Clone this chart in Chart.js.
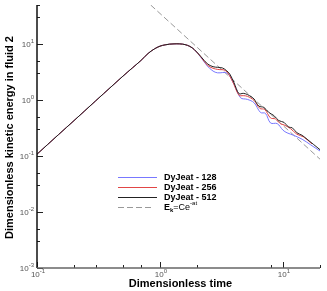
<!DOCTYPE html>
<html>
<head>
<meta charset="utf-8">
<script src="https://cdn.jsdelivr.net/npm/chart.js@4"></script>
<style>
  html, body { margin: 0; padding: 0; background: #fff; }
</style>
</head>
<body>
<canvas id="grafica" width="327" height="291"></canvas>
<script>
// common rise (all resolutions overlap up to t ~ 1.9)
const tEarly = [0.1, 0.15, 0.2, 0.3, 0.4, 0.5, 0.6, 0.7, 0.8, 0.9, 1.0, 1.1, 1.2, 1.3, 1.45, 1.6, 1.75, 1.9];
const eEarly = [0.108, 0.243, 0.43, 0.97, 1.72, 2.68, 3.8, 5.1, 6.8, 8.2, 9.2, 9.7, 10.0, 10.1, 10.1, 9.8, 9.1, 8.0];

// decay part, per resolution
const t128 = [2.15, 2.43, 2.7, 2.93, 3.53, 4.0, 4.52, 5.13, 5.81, 6.57, 7.2, 7.92, 8.98, 10.0, 10.8, 12.2, 14.3, 16.7, 20];
const e128 = [5.8, 4.05, 3.3, 3.07, 3.02, 1.91, 1.10, 1.03, 0.9, 0.6, 0.58, 0.39, 0.38, 0.29, 0.26, 0.235, 0.20, 0.16, 0.123];

const t256 = [2.15, 2.43, 2.7, 2.95, 3.42, 3.88, 4.39, 4.75, 5.13, 5.81, 6.48, 7.1, 7.92, 8.68, 9.5, 10.2, 11.5, 13.0, 14.7, 17.2];
const e256 = [5.9, 4.2, 3.7, 3.53, 3.35, 2.18, 1.22, 1.2, 1.17, 0.99, 0.71, 0.68, 0.48, 0.46, 0.38, 0.36, 0.31, 0.245, 0.22, 0.165];

const t512 = [2.15, 2.43, 2.7, 2.95, 3.22, 3.45, 3.7, 4.0, 4.39, 4.75, 5.13, 5.5, 5.81, 6.37, 7.0, 7.68, 8.43, 9.25, 10.2, 11.1, 11.9, 13.0, 14.3, 15.7, 17.8, 20];
const e512 = [6.0, 4.45, 3.95, 3.85, 3.75, 3.4, 2.9, 2.04, 1.3, 1.32, 1.26, 1.15, 1.05, 0.78, 0.74, 0.6, 0.53, 0.43, 0.40, 0.33, 0.32, 0.26, 0.235, 0.20, 0.16, 0.13];

// fitted decay line
const tFit = [0.84, 20];
const eFit = [50, 0.088];

const etiquetas = ['DyJeat - 128', 'DyJeat - 256', 'DyJeat - 512', 'Ek=Ce-at'];

const xMayor = [0.1, 1, 10];
const xMenor = [0.2, 0.3, 0.5, 0.7, 2, 8, 20];
const yMayor = [0.001, 0.01, 0.1, 1, 10];
const yMenor = [0.003, 0.005, 0.03, 0.05, 0.3, 0.5, 3, 5, 30, 50];

const puntos = (ts, es) => ts.map((t, i) => ({ x: t, y: es[i] }));

const FUENTE = '"Liberation Sans", Arial, sans-serif';

function potencia(ctx, exp, x, y, align) {
    ctx.font = '8px ' + FUENTE;
    const wBase = ctx.measureText('10').width;
    ctx.font = '6px ' + FUENTE;
    const wExp = ctx.measureText(exp).width;
    let x0 = x;
    if (align === 'right') x0 = x - wBase - wExp;
    if (align === 'center') x0 = x - (wBase + wExp) / 2;
    ctx.textAlign = 'left';
    ctx.textBaseline = 'alphabetic';
    ctx.font = '8px ' + FUENTE;
    ctx.fillText('10', x0, y);
    ctx.font = '6px ' + FUENTE;
    ctx.fillText(exp, x0 + wBase, y - 4);
}

const ejes = {
    id: 'ejes',
    afterDraw(chart) {
        const ctx = chart.ctx;
        const xs = chart.scales.x;
        const ys = chart.scales.y;
        const a = chart.chartArea;
        ctx.save();

        // ticks (inward)
        ctx.strokeStyle = '#222';
        ctx.lineWidth = 1;
        ctx.beginPath();
        xMayor.forEach(v => { const p = Math.round(xs.getPixelForValue(v)) + 0.5; ctx.moveTo(p, a.bottom); ctx.lineTo(p, a.bottom - 6); });
        xMenor.forEach(v => { const p = Math.round(xs.getPixelForValue(v)) + 0.5; ctx.moveTo(p, a.bottom); ctx.lineTo(p, a.bottom - 3); });
        yMayor.forEach(v => { const p = Math.round(ys.getPixelForValue(v)) + 0.5; ctx.moveTo(a.left, p); ctx.lineTo(a.left + 6, p); });
        yMenor.forEach(v => { const p = Math.round(ys.getPixelForValue(v)) + 0.5; ctx.moveTo(a.left, p); ctx.lineTo(a.left + 3, p); });
        ctx.stroke();

        // axis lines
        ctx.lineWidth = 1.5;
        ctx.strokeStyle = '#111';
        ctx.beginPath();
        ctx.moveTo(a.left, a.top);
        ctx.lineTo(a.left, a.bottom);
        ctx.stroke();
        ctx.strokeStyle = '#666';
        ctx.beginPath();
        ctx.moveTo(a.left, a.bottom);
        ctx.lineTo(a.right, a.bottom);
        ctx.stroke();

        // tick labels
        ctx.fillStyle = '#555';
        xMayor.forEach(v => {
            potencia(ctx, String(Math.round(Math.log10(v))), xs.getPixelForValue(v) + 1, a.bottom + 9, 'center');
        });
        yMayor.forEach(v => {
            potencia(ctx, String(Math.round(Math.log10(v))), a.left - 3, ys.getPixelForValue(v) + 3, 'right');
        });

        // axis titles
        ctx.fillStyle = '#000';
        ctx.font = 'bold 11px ' + FUENTE;
        ctx.textAlign = 'center';
        ctx.textBaseline = 'alphabetic';
        ctx.fillText('Dimensionless time', (a.left + a.right) / 2 + 2, 287);
        ctx.save();
        ctx.translate(13, (a.top + a.bottom) / 2 + 1);
        ctx.rotate(-Math.PI / 2);
        ctx.fillText('Dimensionless kinetic energy in fluid 2', 0, 0);
        ctx.restore();

        // legend
        chart.data.datasets.forEach((ds, i) => {
            const y = 177 + i * 10 + 0.5;
            ctx.strokeStyle = ds.borderColor;
            ctx.lineWidth = 1;
            ctx.setLineDash(ds.borderDash || []);
            ctx.beginPath();
            ctx.moveTo(118, y);
            ctx.lineTo(ds.borderDash ? 153 : 157, y);
            ctx.stroke();
            ctx.setLineDash([]);
            ctx.fillStyle = '#000';
            ctx.textAlign = 'left';
            ctx.textBaseline = 'middle';
            if (i < 3) {
                ctx.font = 'bold 9px ' + FUENTE;
                ctx.fillText(ds.label, 164, y);
            } else {
                let x = 164;
                ctx.font = 'bold 9px ' + FUENTE;
                ctx.fillText('E', x, y); x += ctx.measureText('E').width;
                ctx.font = 'bold 6px ' + FUENTE;
                ctx.fillText('k', x, y + 3); x += ctx.measureText('k').width;
                ctx.font = '9px ' + FUENTE;
                ctx.fillText('=Ce', x, y); x += ctx.measureText('=Ce').width;
                ctx.font = '6px ' + FUENTE;
                ctx.fillText('-at', x, y - 4);
            }
        });
        ctx.restore();
    }
};

new Chart(document.getElementById('grafica'), {
    type: 'line',
    data: {
        datasets: [
            { label: etiquetas[0], data: puntos(tEarly.concat(t128), eEarly.concat(e128)), borderColor: 'rgb(120,120,255)', order: 3 },
            { label: etiquetas[1], data: puntos(tEarly.concat(t256), eEarly.concat(e256)), borderColor: 'rgb(225,70,70)', order: 2 },
            { label: etiquetas[2], data: puntos(tEarly.concat(t512), eEarly.concat(e512)), borderColor: '#222', order: 1 },
            { label: etiquetas[3], data: puntos(tFit, eFit), borderColor: '#999', borderDash: [6, 3], tension: 0, order: 4 }
        ]
    },
    options: {
        responsive: false,
        animation: false,
        devicePixelRatio: 1,
        layout: { padding: { left: 37, right: 7, top: 5, bottom: 23 } },
        elements: {
            point: { radius: 0 },
            line: { borderWidth: 1, tension: 0.35 }
        },
        plugins: { legend: { display: false }, tooltip: { enabled: false } },
        scales: {
            x: { type: 'logarithmic', min: 0.1, max: 20, display: false },
            y: { type: 'logarithmic', min: 0.001, max: 50, display: false }
        }
    },
    plugins: [ejes]
});
</script>
</body>
</html>
